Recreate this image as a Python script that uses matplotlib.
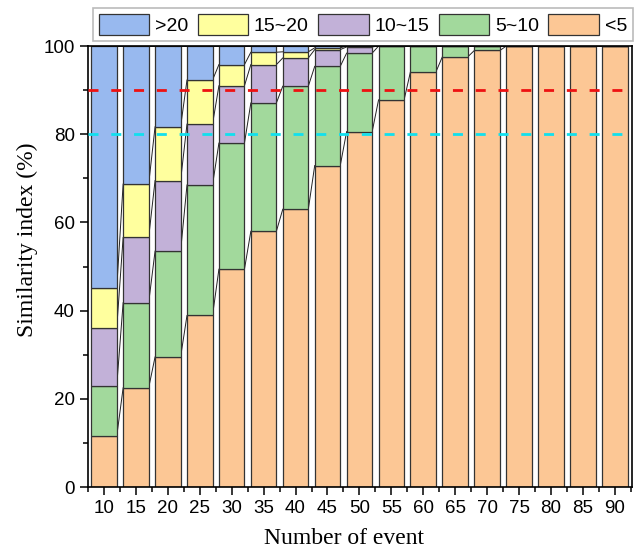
import numpy as np
import matplotlib
matplotlib.use("Agg")
import matplotlib.pyplot as plt

# number of events on the x axis
events = [10, 15, 20, 25, 30, 35, 40, 45, 50, 55, 60, 65, 70, 75, 80, 85, 90]

# share (%) of each error class
lt5    = [11.5, 22.5, 29.5, 38.9, 49.4, 58.0, 63.0, 72.9, 80.6, 87.8, 94.2, 97.6, 99.0, 100, 100, 100, 100]
s5_10  = [11.5, 19.3, 24.0, 29.6, 28.6, 29.1, 27.9, 22.5, 17.8, 12.2, 5.8, 2.4, 1.0, 0, 0, 0, 0]
s10_15 = [13.1, 14.8, 16.0, 13.8, 13.0, 8.7, 6.4, 3.8, 1.4, 0, 0, 0, 0, 0, 0, 0, 0]
s15_20 = [9.0, 12.1, 12.2, 10.0, 4.8, 2.8, 1.4, 0.4, 0.2, 0, 0, 0, 0, 0, 0, 0, 0]
gt20   = [54.9, 31.3, 18.3, 7.7, 4.2, 1.4, 1.3, 0.4, 0, 0, 0, 0, 0, 0, 0, 0, 0]

series = [lt5, s5_10, s10_15, s15_20, gt20]
labels = ["<5", "5~10", "10~15", "15~20", ">20"]
colors = ["#FCC795", "#A2D99C", "#C2B1D8", "#FFFF9E", "#98B9EF"]

sans = ["Liberation Sans", "DejaVu Sans"]
serif = ["Liberation Serif", "DejaVu Serif"]

fig = plt.figure(figsize=(6.35, 5.55), dpi=100)
ax = fig.add_axes([0.1386, 0.1225, 0.8564, 0.7945])

x = np.array(events, dtype=float)
w = 4.0
bottom = np.zeros(len(x))
handles = []
for vals, lab, col in zip(series, labels, colors):
    vals = np.array(vals, dtype=float)
    b = ax.bar(x, vals, w, bottom=bottom, color=col, edgecolor="#333333",
               linewidth=0.9, label=lab, zorder=2)
    handles.append(b)
    bottom = bottom + vals
    # thin lines joining the same boundary of neighbouring bars
    for i in range(len(x) - 1):
        ax.plot([x[i] + w / 2, x[i + 1] - w / 2], [bottom[i], bottom[i + 1]],
                color="#222222", lw=0.7, zorder=1.5)

ax.axhline(90, color="#EE1111", lw=2.0, ls=(0, (3.6, 4.6)), zorder=3)
ax.axhline(80, color="#11E0EE", lw=2.0, ls=(0, (3.6, 4.6)), zorder=3)

ax.set_xlim(7.66, 92.66)
ax.set_ylim(0, 100)
ax.set_xticks(events)
ax.set_xticks(np.arange(7.5, 93, 5), minor=True)
ax.set_yticks(np.arange(0, 101, 20))
ax.set_yticks(np.arange(0, 101, 10), minor=True)
ax.tick_params(which="major", direction="out", length=6, width=1.1, pad=3.5)
ax.tick_params(which="minor", direction="out", length=3.8, width=1.1)
for lab in ax.get_xticklabels() + ax.get_yticklabels():
    lab.set_family(sans)
    lab.set_fontsize(13.5)
for sp in ax.spines.values():
    sp.set_linewidth(1.2)

ax.set_xlabel("Number of event", family=serif, fontsize=17)
ax.set_ylabel("Similarity index (%)", family=serif, fontsize=17)
ax.xaxis.set_label_coords(0.47, -0.093)
ax.yaxis.set_label_coords(-0.092, 0.561)

# legend in the same order as the picture: >20 first
leg = fig.legend(handles[::-1], labels[::-1], loc="upper center",
                 bbox_to_anchor=(0.5715, 0.986), ncol=5, frameon=True,
                 fancybox=False, edgecolor="#AAAAAA",
                 prop={"family": sans, "size": 14},
                 handlelength=2.6, handleheight=1.3, handletextpad=0.3,
                 columnspacing=0.48, borderpad=0.3, borderaxespad=0.0)
leg.get_frame().set_linewidth(1.2)

fig.savefig("out.png", dpi=100)
